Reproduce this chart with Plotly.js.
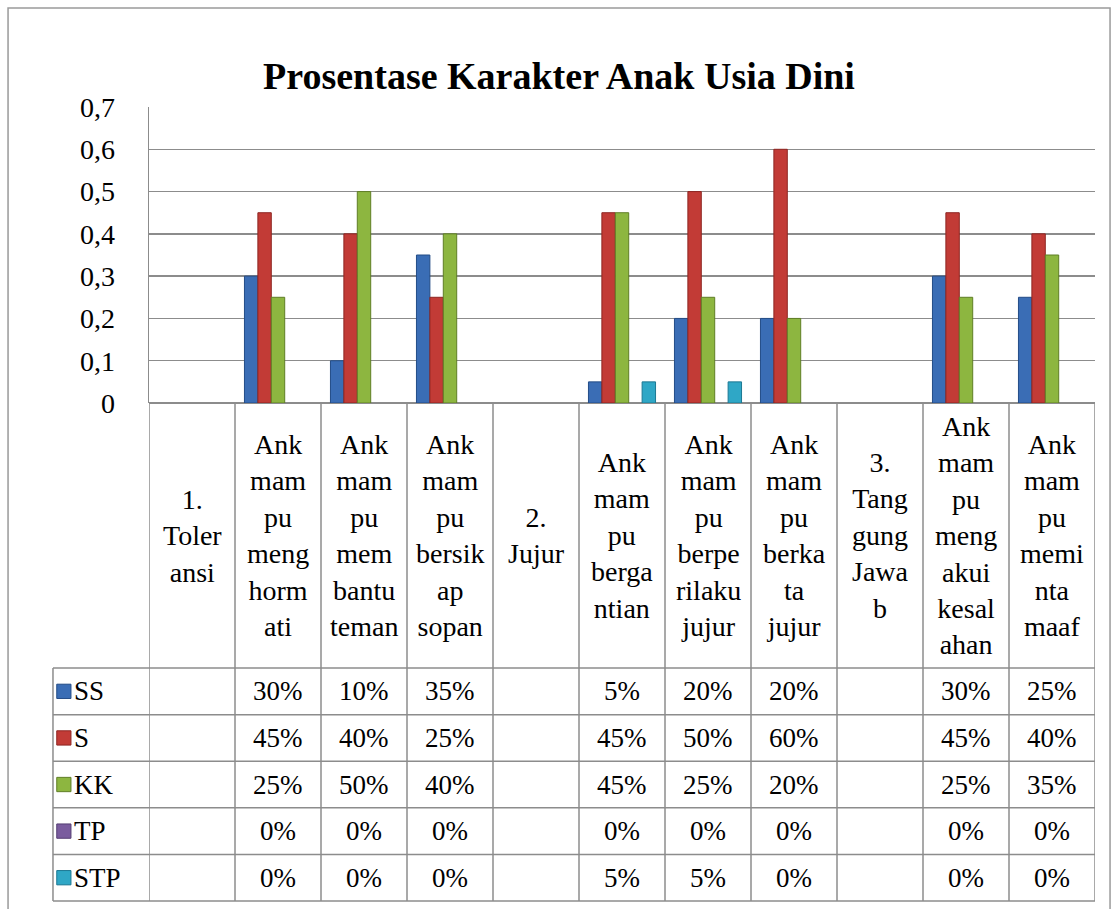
<!DOCTYPE html>
<html>
<head>
<meta charset="utf-8">
<script src="https://cdn.plot.ly/plotly-3.0.1.min.js"></script>
<style>
html,body{margin:0;padding:0;background:#fff;}
#chart{width:1118px;height:909px;}
</style>
</head>
<body>
<div id="chart"></div>
<script>
// ---- data ----
var categories = [
  "1. Toleransi",
  "Ank mampu menghormati",
  "Ank mampu membantu teman",
  "Ank mampu bersikap sopan",
  "2. Jujur",
  "Ank mampu bergantian",
  "Ank mampu berperilaku jujur",
  "Ank mampu berkata jujur",
  "3. Tanggung Jawab",
  "Ank mampu mengakui kesalahan",
  "Ank mampu meminta maaf"
];
var headerLabels = [
  "1.<br>Toler<br>ansi",
  "Ank<br>mam<br>pu<br>meng<br>horm<br>ati",
  "Ank<br>mam<br>pu<br>mem<br>bantu<br>teman",
  "Ank<br>mam<br>pu<br>bersik<br>ap<br>sopan",
  "2.<br>Jujur",
  "Ank<br>mam<br>pu<br>berga<br>ntian",
  "Ank<br>mam<br>pu<br>berpe<br>rilaku<br>jujur",
  "Ank<br>mam<br>pu<br>berka<br>ta<br>jujur",
  "3.<br>Tang<br>gung<br>Jawa<br>b",
  "Ank<br>mam<br>pu<br>meng<br>akui<br>kesal<br>ahan",
  "Ank<br>mam<br>pu<br>memi<br>nta<br>maaf"
];
var seriesNames = ["SS", "S", "KK", "TP", "STP"];
var SS  = [null, 0.30, 0.10, 0.35, null, 0.05, 0.20, 0.20, null, 0.30, 0.25];
var S   = [null, 0.45, 0.40, 0.25, null, 0.45, 0.50, 0.60, null, 0.45, 0.40];
var KK  = [null, 0.25, 0.50, 0.40, null, 0.45, 0.25, 0.20, null, 0.25, 0.35];
var TP  = [null, 0.00, 0.00, 0.00, null, 0.00, 0.00, 0.00, null, 0.00, 0.00];
var STP = [null, 0.00, 0.00, 0.00, null, 0.05, 0.05, 0.00, null, 0.00, 0.00];
var yTicks = [0, 0.1, 0.2, 0.3, 0.4, 0.5, 0.6, 0.7];
var titleText = "Prosentase Karakter Anak Usia Dini";

// ---- styling ----
var seriesData = [SS, S, KK, TP, STP];
var colors = ["#3A6DB5", "#C23B36", "#8DB640", "#7A5C9E", "#2FA7C6"];
var lines  = ["#234C86", "#8E2522", "#5F7E25", "#553E73", "#1B7893"];
var FONT = "Liberation Serif, Times New Roman, serif";
var gridCol = "#8C8C8C";

var xIdx = categories.map(function(_, i){ return i; });

var traces = seriesData.map(function(vals, k){
  return {
    type: "bar",
    name: seriesNames[k],
    x: xIdx,
    y: vals,
    marker: {color: colors[k],
      line: {color: lines[k], width: vals.map(function(v){ return v ? 1 : 0; })}},
    showlegend: false,
    hoverinfo: "x+y"
  };
});

// table geometry (paper coords)
var axBottom = 0.6272;       // y-axis domain bottom (y=0 line)
var headerBottom = 0.2934;   // bottom of header row
var nRows = seriesNames.length;
var rowH = headerBottom / nRows;
var labelLeft = -0.1015;     // left edge of label column (paper)

var shapes = [];
var annotations = [];

// outer chart frame
shapes.push({type:"rect", xref:"paper", yref:"paper", x0:-0.149, x1:1.0159, y0:-0.05, y1:1.1247,
  line:{color:"#9A9A9A", width:1.5}, fillcolor:"rgba(0,0,0,0)", layer:"below"});

// vertical table lines at category boundaries
for (var i = 0; i <= categories.length; i++) {
  shapes.push({type:"line", xref:"x", yref:"paper", x0:i-0.5, x1:i-0.5, y0:0, y1:axBottom,
    line:{color:gridCol, width:1.5}});
}
// left edge of label column
shapes.push({type:"line", xref:"paper", yref:"paper", x0:labelLeft, x1:labelLeft, y0:0, y1:headerBottom,
  line:{color:gridCol, width:1.5}});
// horizontal row lines
for (var r = 0; r <= nRows; r++) {
  var yy = headerBottom - r*rowH;
  shapes.push({type:"line", xref:"paper", yref:"paper", x0:labelLeft, x1:1, y0:yy, y1:yy,
    line:{color:gridCol, width:1.5}});
}

// header labels
headerLabels.forEach(function(t, i){
  annotations.push({xref:"x", yref:"paper", x:i, y:(axBottom+headerBottom)/2,
    text:t, showarrow:false, xanchor:"center", yanchor:"middle",
    font:{family:FONT, size:28, color:"#000"}});
});

// data rows
seriesNames.forEach(function(name, k){
  var yc = headerBottom - (k+0.5)*rowH;
  // legend key square
  shapes.push({type:"rect", xref:"paper", yref:"paper",
    x0:labelLeft+0.004, x1:labelLeft+0.019, y0:yc-0.009, y1:yc+0.009,
    fillcolor:colors[k], line:{color:lines[k], width:1}});
  annotations.push({xref:"paper", yref:"paper", x:labelLeft+0.020, y:yc, text:name,
    showarrow:false, xanchor:"left", yanchor:"middle",
    font:{family:FONT, size:27, color:"#000"}});
  seriesData[k].forEach(function(v, i){
    if (v === null) return;
    annotations.push({xref:"x", yref:"paper", x:i, y:yc, text:Math.round(v*100)+"%",
      showarrow:false, xanchor:"center", yanchor:"middle",
      font:{family:FONT, size:27, color:"#000"}});
  });
});

var layout = {
  width: 1118, height: 909,
  margin: {l:149, r:23, t:107, b:8, pad:0},
  paper_bgcolor: "rgba(0,0,0,0)",
  plot_bgcolor: "rgba(0,0,0,0)",
  separators: ", ",
  title: {text:"<b>"+titleText+"</b>", x:0.5, xref:"container", xanchor:"center",
    y:1-76/909, yref:"container", yanchor:"middle",
    font:{family:FONT, size:38, color:"#000"}},
  barmode: "group",
  bargap: 0.22,
  bargroupgap: 0,
  xaxis: {type:"linear", range:[-0.5, categories.length-0.5], showticklabels:false,
    showgrid:false, zeroline:false, showline:false, ticks:"", fixedrange:true},
  yaxis: {domain:[axBottom, 1], range:[0, 0.7], tickvals:yTicks, tickformat:".1~f",
    showgrid:true, gridcolor:gridCol, gridwidth:1.5,
    zeroline:true, zerolinecolor:gridCol, zerolinewidth:1.5,
    showline:true, linecolor:gridCol, linewidth:1.5, ticks:"", ticklabelstandoff:27,
    tickfont:{family:FONT, size:28, color:"#000"}, fixedrange:true},
  shapes: shapes,
  annotations: annotations
};

Plotly.newPlot("chart", traces, layout, {displayModeBar:false, staticPlot:true});
</script>
</body>
</html>
